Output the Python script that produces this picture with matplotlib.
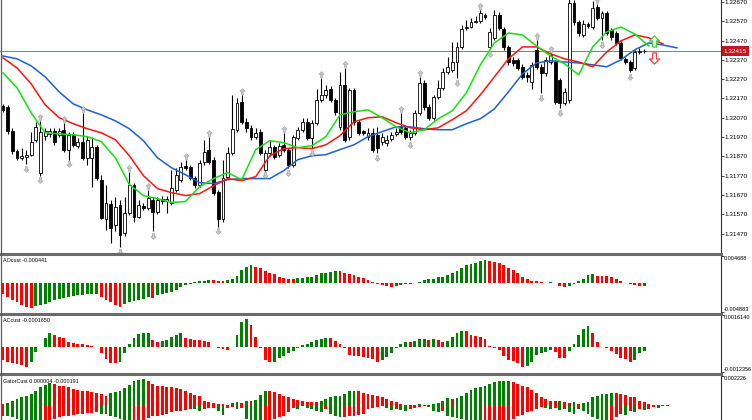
import numpy as np
import matplotlib.pyplot as plt
from matplotlib.lines import Line2D
from matplotlib.path import Path
import matplotlib.transforms as mtransforms

plt.rcParams['font.family'] = ['Liberation Sans', 'DejaVu Sans']

# ---------------- data ----------------
open_ = [
    1.32132, 1.32127, 1.32003, 1.31899, 1.31863, 1.31868, 1.31879, 1.31956, 1.31786, 1.31977,
    1.31987, 1.32003, 1.31982, 1.32008, 1.31905, 1.31982, 1.31925, 1.31946, 1.31863, 1.31863,
    1.31920, 1.31749, 1.31543, 1.31625, 1.31512, 1.31620, 1.31475, 1.31579, 1.31724, 1.31558,
    1.31615, 1.31605, 1.31646, 1.31584, 1.31651, 1.31641, 1.31631, 1.31698, 1.31749, 1.31822,
    1.31817, 1.31760, 1.31724, 1.31842, 1.31905, 1.31853, 1.31687, 1.31543, 1.31765, 1.31889,
    1.32008, 1.32153, 1.32049, 1.32018, 1.31972, 1.31998, 1.31801, 1.31889, 1.31920, 1.31879,
    1.31930, 1.31905, 1.31827, 1.31967, 1.32008, 1.32049, 1.31967, 1.32044, 1.32163, 1.32189,
    1.32220, 1.32163, 1.32023, 1.32241, 1.31972, 1.32215, 1.32049, 1.32003, 1.31972, 1.31992,
    1.31982, 1.31946, 1.31941, 1.31961, 1.31987, 1.32023, 1.32018, 1.31972, 1.31992, 1.32096,
    1.32251, 1.32127, 1.32070, 1.32179, 1.32225, 1.32308, 1.32318, 1.32359, 1.32437, 1.32535,
    1.32540, 1.32566, 1.32571, 1.32602, 1.32437, 1.32484, 1.32602, 1.32530, 1.32437, 1.32370,
    1.32370, 1.32334, 1.32292, 1.32256, 1.32422, 1.32334, 1.32303, 1.32359, 1.32359, 1.32266,
    1.32148, 1.32163, 1.32665, 1.32566, 1.32499, 1.32556, 1.32540, 1.32644, 1.32587, 1.32613,
    1.32525, 1.32509, 1.32458, 1.32375, 1.32359, 1.32328, 1.32411, 1.32416]
high = [
    1.32142, 1.32137, 1.32018, 1.31910, 1.31915, 1.31905, 1.31998, 1.32049, 1.32054, 1.32018,
    1.32018, 1.32018, 1.32018, 1.32044, 1.31998, 1.31998, 1.31967, 1.32096, 1.31977, 1.31972,
    1.31930, 1.31775, 1.31724, 1.31646, 1.31662, 1.31646, 1.31662, 1.31791, 1.31734, 1.31646,
    1.31631, 1.31698, 1.31662, 1.31662, 1.31667, 1.31667, 1.31801, 1.31811, 1.31842, 1.31853,
    1.31827, 1.31770, 1.31853, 1.31956, 1.31972, 1.31868, 1.31698, 1.31853, 1.31920, 1.32189,
    1.32173, 1.32189, 1.32070, 1.32034, 1.32018, 1.32013, 1.31905, 1.31956, 1.31930, 1.31941,
    1.31992, 1.31915, 1.31982, 1.32023, 1.32070, 1.32070, 1.32060, 1.32220, 1.32277, 1.32241,
    1.32235, 1.32173, 1.32308, 1.32328, 1.32225, 1.32225, 1.32060, 1.32008, 1.32018, 1.32018,
    1.32023, 1.31992, 1.31982, 1.31998, 1.32018, 1.32096, 1.32034, 1.32008, 1.32111, 1.32282,
    1.32266, 1.32142, 1.32189, 1.32266, 1.32328, 1.32385, 1.32463, 1.32463, 1.32551, 1.32577,
    1.32587, 1.32597, 1.32628, 1.32613, 1.32535, 1.32628, 1.32618, 1.32540, 1.32447, 1.32385,
    1.32380, 1.32349, 1.32308, 1.32359, 1.32473, 1.32349, 1.32385, 1.32406, 1.32370, 1.32277,
    1.32225, 1.32695, 1.32680, 1.32577, 1.32577, 1.32566, 1.32675, 1.32659, 1.32623, 1.32623,
    1.32535, 1.32520, 1.32468, 1.32385, 1.32370, 1.32422, 1.32432, 1.32427]
low = [
    1.32101, 1.31987, 1.31884, 1.31853, 1.31853, 1.31832, 1.31873, 1.31946, 1.31770, 1.31956,
    1.31972, 1.31930, 1.31972, 1.31894, 1.31853, 1.31920, 1.31915, 1.31853, 1.31827, 1.31713,
    1.31749, 1.31543, 1.31486, 1.31419, 1.31481, 1.31398, 1.31460, 1.31568, 1.31532, 1.31553,
    1.31594, 1.31594, 1.31481, 1.31574, 1.31625, 1.31579, 1.31620, 1.31687, 1.31739, 1.31801,
    1.31749, 1.31708, 1.31713, 1.31827, 1.31832, 1.31672, 1.31506, 1.31532, 1.31755, 1.31879,
    1.31998, 1.32039, 1.31998, 1.31956, 1.31961, 1.31879, 1.31796, 1.31873, 1.31858, 1.31868,
    1.31894, 1.31811, 1.31817, 1.31956, 1.31998, 1.31956, 1.31915, 1.32034, 1.32153, 1.32173,
    1.32153, 1.32085, 1.32008, 1.31946, 1.31956, 1.32034, 1.31982, 1.31982, 1.31956, 1.31894,
    1.31889, 1.31930, 1.31925, 1.31951, 1.31977, 1.31987, 1.31961, 1.31956, 1.31982, 1.32085,
    1.32111, 1.32060, 1.32060, 1.32168, 1.32215, 1.32297, 1.32308, 1.32277, 1.32427, 1.32525,
    1.32535, 1.32561, 1.32561, 1.32582, 1.32427, 1.32473, 1.32525, 1.32422, 1.32344, 1.32339,
    1.32318, 1.32272, 1.32256, 1.32220, 1.32323, 1.32199, 1.32287, 1.32349, 1.32142, 1.32122,
    1.32137, 1.32148, 1.32551, 1.32494, 1.32489, 1.32535, 1.32530, 1.32577, 1.32473, 1.32499,
    1.32473, 1.32447, 1.32370, 1.32349, 1.32308, 1.32318, 1.32401, 1.32406]
close = [
    1.32111, 1.32003, 1.31899, 1.31863, 1.31873, 1.31879, 1.31946, 1.32023, 1.31998, 1.32003,
    1.32003, 1.31946, 1.32003, 1.31905, 1.31982, 1.31930, 1.31946, 1.31863, 1.31956, 1.31920,
    1.31760, 1.31553, 1.31631, 1.31501, 1.31610, 1.31465, 1.31579, 1.31724, 1.31558, 1.31620,
    1.31605, 1.31656, 1.31584, 1.31646, 1.31641, 1.31651, 1.31708, 1.31775, 1.31817, 1.31811,
    1.31760, 1.31724, 1.31837, 1.31894, 1.31842, 1.31682, 1.31543, 1.31760, 1.31889, 1.32013,
    1.32148, 1.32049, 1.32018, 1.31972, 1.31992, 1.31889, 1.31889, 1.31920, 1.31868, 1.31925,
    1.31905, 1.31827, 1.31972, 1.32008, 1.32049, 1.31967, 1.32044, 1.32163, 1.32189, 1.32215,
    1.32163, 1.32101, 1.32241, 1.31956, 1.32215, 1.32049, 1.31992, 1.31992, 1.31992, 1.31905,
    1.31915, 1.31972, 1.31956, 1.31982, 1.31998, 1.31998, 1.31972, 1.31992, 1.32096, 1.32251,
    1.32127, 1.32070, 1.32179, 1.32225, 1.32308, 1.32334, 1.32359, 1.32437, 1.32530, 1.32540,
    1.32566, 1.32571, 1.32613, 1.32592, 1.32515, 1.32602, 1.32535, 1.32437, 1.32359, 1.32354,
    1.32328, 1.32282, 1.32282, 1.32344, 1.32334, 1.32303, 1.32370, 1.32396, 1.32153, 1.32148,
    1.32204, 1.32665, 1.32566, 1.32509, 1.32556, 1.32546, 1.32639, 1.32587, 1.32613, 1.32509,
    1.32489, 1.32458, 1.32380, 1.32359, 1.32318, 1.32411, 1.32416, 1.32415]

# alligator lines, one value every 3 bars (already shifted forward)
jaw = [1.32390, 1.32375, 1.32339, 1.32282, 1.32204, 1.32142, 1.32111, 1.32085, 1.32054, 1.32013,
       1.31951, 1.31863, 1.31811, 1.31775, 1.31734, 1.31729, 1.31749, 1.31755, 1.31755, 1.31755,
       1.31796, 1.31853, 1.31873, 1.31879, 1.31905, 1.31930, 1.31972, 1.31998, 1.32023, 1.32023,
       1.32013, 1.32008, 1.32008, 1.32039, 1.32065, 1.32116, 1.32204, 1.32297, 1.32354, 1.32365,
       1.32359, 1.32354, 1.32344, 1.32334, 1.32370, 1.32422, 1.32458, 1.32447, 1.32432]
teeth = [1.32380, 1.32328, 1.32246, 1.32137, 1.32070, 1.32039, 1.32013, 1.31992, 1.31956, 1.31873,
         1.31770, 1.31703, 1.31682, 1.31667, 1.31677, 1.31718, 1.31755, 1.31744, 1.31765, 1.31873,
         1.31910, 1.31915, 1.31910, 1.31930, 1.31977, 1.32049, 1.32070, 1.32075, 1.32044, 1.32018,
         1.32008, 1.32018, 1.32060, 1.32106, 1.32189, 1.32282, 1.32375, 1.32437, 1.32437, 1.32401,
         1.32375, 1.32359, 1.32334, 1.32411, 1.32468, 1.32499, 1.32484, 1.32453]
lips = [1.32303, 1.32225, 1.32096, 1.31992, 1.31987, 1.31982, 1.31972, 1.31946, 1.31863, 1.31724,
        1.31667, 1.31651, 1.31631, 1.31636, 1.31713, 1.31755, 1.31786, 1.31749, 1.31905, 1.31951,
        1.31941, 1.31915, 1.31925, 1.31972, 1.32085, 1.32101, 1.32111, 1.32070, 1.32023, 1.31992,
        1.32008, 1.32065, 1.32106, 1.32199, 1.32344, 1.32458, 1.32509, 1.32499, 1.32442, 1.32390,
        1.32349, 1.32292, 1.32437, 1.32515, 1.32540, 1.32504, 1.32442]

frac_up = [8, 13, 17, 27, 31, 39, 44, 51, 60, 68, 73, 85, 89, 102, 114, 117, 127]
frac_dn = [5, 8, 14, 25, 32, 46, 56, 61, 66, 80, 87, 97, 104, 115, 119, 128, 134]

# oscillators, in units of 1e-4
ao = [-18.0, -23.5, -28.1, -31.9, -37.5, -40.3, -41.5, -39.1, -37.5, -34.8,
      -31.9, -29.1, -27.4, -25.2, -23.5, -22.3, -20.7, -19.7, -19.0, -18.8,
      -18.0, -23.5, -29.1, -31.9, -37.5, -40.3, -34.8, -31.9, -30.2, -28.1,
      -26.4, -23.5, -24.4, -19.7, -18.0, -16.8, -15.1, -11.3, -6.7, -2.9,
      -1.2, 1.7, 2.9, 4.5, 6.2, 5.5, 3.4, 2.9, 5.5, 7.2,
      12.9, 22.5, 28.1, 30.7, 28.1, 26.4, 20.7, 16.8, 15.1, 11.3,
      9.6, 7.9, 7.6, 8.4, 9.6, 10.1, 11.3, 13.9, 16.8, 18.0,
      19.7, 20.7, 20.2, 18.0, 15.1, 13.4, 11.3, 8.4, 5.5, 2.2,
      -1.2, -3.4, -5.5, -5.9, -4.5, -3.4, -2.2, -1.2, 0.3, 2.2,
      5.0, 6.7, 7.9, 10.1, 11.3, 13.4, 16.8, 20.7, 26.4, 30.2,
      33.1, 34.8, 37.5, 39.1, 37.5, 35.8, 34.8, 30.2, 26.4, 22.3,
      16.8, 11.3, 6.7, 3.9, 3.7, 1.2, 0.5, 1.2, -0.5, -5.5,
      -7.2, -5.0, -1.2, 3.4, 7.2, 13.9, 15.1, 12.9, 12.6, 12.3,
      11.3, 7.2, 3.4, 0.5, -1.2, -3.5, -5.0, -4.41]
ac = [-6.35, -7.15, -7.65, -8.35, -8.85, -10.0, -7.15, -2.15, 0.35, 4.5,
      7.0, 6.15, 5.0, 4.85, 2.85, 2.0, 1.65, 1.6, 1.15, 0.65,
      0.15, -3.0, -6.0, -8.0, -8.1, -7.15, -3.0, 1.5, 4.5, 6.65,
      7.0, 7.25, 3.65, 2.85, 2.9, 3.65, 5.0, 6.15, 7.35, 4.5,
      4.0, 3.65, 3.6, 3.35, 2.85, 0.35, -0.5, -1.0, -1.35, 0.35,
      6.15, 12.85, 14.15, 11.15, 5.0, -0.15, -6.35, -7.5, -7.15, -5.15,
      -4.15, -3.0, -1.65, -0.15, 1.15, 1.5, 2.5, 3.65, 4.15, 4.5,
      4.45, 3.15, 1.5, -0.5, -3.85, -4.15, -4.25, -4.65, -5.5, -5.85,
      -7.15, -6.35, -4.65, -3.0, -0.5, 1.5, 2.5, 2.4, 3.15, 4.15,
      4.2, 3.65, 4.15, 3.65, 2.85, 3.15, 5.35, 7.0, 8.35, 8.25,
      6.15, 5.85, 5.35, 4.15, 0.65, -0.5, -1.35, -4.15, -6.35, -6.65,
      -8.0, -9.65, -9.35, -7.15, -3.85, -3.0, -2.15, -1.35, -2.15, -5.35,
      -5.4, -2.0, 1.65, 6.35, 9.35, 10.85, 7.15, 2.5, 0.1, -0.15,
      -2.0, -3.15, -5.35, -5.85, -7.5, -6.15, -2.85, -1.65]
gator_up = [
    1.26, 2.00, 3.71, 4.97, 6.16, 7.42, 8.68, 11.13, 13.58, 15.58,
    16.55, 16.10, 14.84, 14.32, 13.58, 12.39, 11.87, 11.13, 10.39, 9.87,
    9.42, 8.68, 7.42, 9.42, 9.87, 11.13, 12.84, 15.36, 17.81, 19.29,
    19.81, 18.55, 16.10, 14.84, 14.32, 13.58, 13.50, 12.84, 12.39, 11.13,
    9.42, 7.94, 6.90, 3.71, 2.45, 2.00, 1.34, 1.11, 0.59, 1.71,
    2.23, 2.00, 3.71, 2.97, 4.08, 7.94, 10.76, 10.39, 9.87, 8.68,
    7.42, 6.16, 4.97, 4.08, 3.71, 2.82, 2.45, 2.23, 3.71, 4.97,
    6.16, 6.90, 7.12, 8.68, 10.39, 11.13, 10.39, 9.42, 8.68, 7.94,
    7.42, 6.16, 4.97, 3.71, 2.45, 1.26, 0.59, 0.37, 0.59, 0.89,
    0.45, 0.59, 1.11, 1.86, 3.71, 5.42, 5.19, 5.57, 7.42, 9.42,
    11.87, 12.84, 13.58, 14.84, 16.10, 17.29, 17.81, 18.33, 18.55, 17.29,
    16.10, 14.84, 13.58, 11.87, 9.42, 6.16, 4.97, 3.71, 2.97, 3.34,
    2.60, 2.08, 2.37, 1.48, 1.86, 2.45, 6.16, 7.42, 8.68, 8.76,
    9.13, 9.05, 8.68, 8.16, 6.16, 6.08, 3.71, 2.45, 1.26, 0.74,
    0.52, 0.37, 0.04]
gator_lo = [
    -7.42, -7.79, -8.68, -9.65, -10.39, -11.13, -11.87, -12.61, -13.36, -12.61,
    -11.50, -10.02, -8.90, -8.16, -7.42, -6.90, -6.46, -6.08, -5.71, -5.34,
    -4.97, -6.16, -6.31, -7.42, -8.90, -10.02, -11.13, -12.24, -11.87, -11.50,
    -10.39, -9.28, -8.16, -7.42, -6.68, -5.94, -5.19, -4.45, -3.71, -2.97,
    -2.23, -2.60, -3.71, -2.45, -2.00, -1.86, -3.71, -6.90, -2.00, -1.26,
    -2.23, -2.00, -9.87, -10.76, -11.87, -13.36, -12.61, -11.13, -9.87, -8.68,
    -7.42, -4.97, -2.00, -2.45, -0.52, -2.00, -2.45, -4.45, -4.53, -2.45,
    -6.16, -7.42, -8.68, -8.53, -8.16, -7.42, -6.68, -5.94, -2.45, -2.00,
    -1.26, -0.74, -2.00, -2.97, -2.45, -2.97, -3.71, -2.45, -1.86, -1.11,
    -0.74, -1.48, -3.71, -4.97, -3.71, -7.42, -8.68, -9.28, -9.87, -11.13,
    -12.61, -14.10, -15.58, -15.21, -14.84, -14.10, -13.36, -12.24, -11.13, -9.65,
    -8.16, -6.68, -5.19, -3.71, -2.23, -1.11, -1.86, -2.60, -1.86, -3.19,
    -2.45, -4.97, -6.16, -2.45, -4.45, -6.16, -8.68, -9.87, -10.76, -11.13,
    -10.39, -8.90, -5.94, -6.68, -4.45, -5.19, -2.45, -2.97, -2.45, -1.48,
    -1.91]

price_ticks = [1.31470, 1.31570, 1.31670, 1.31770, 1.31870, 1.31970, 1.32070,
               1.32170, 1.32270, 1.32370, 1.32470, 1.32570, 1.32670]
last_price = 1.32415
ao_range = (-0.004883, 0.004688)
ac_range = (-0.0012356, 0.0016140)
gator_top = 0.002226
signal_up = (139, 1.32470)
signal_dn = (139, 1.32378)

# ---------------- layout ----------------
W, H = 752, 420
fig = plt.figure(figsize=(W / 100, H / 100), dpi=100)
fig.patch.set_facecolor('white')

AXIS_X = 721          # pixel column of the price scale
X0, STEP = 3.0, 4.68  # first bar position and bar spacing in pixels
XLIM = (-X0 / STEP, (AXIS_X - X0) / STEP)
GREEN, RED = '#008000', '#ff0000'


def box(x0, y0, x1, y1):
    return [x0 / W, 1 - y1 / H, (x1 - x0) / W, (y1 - y0) / H]


def style(ax):
    for s in ('top', 'left', 'bottom'):
        ax.spines[s].set_visible(False)
    ax.spines['right'].set_color('#303030')
    ax.spines['right'].set_linewidth(0.8)
    ax.set_xlim(*XLIM)
    ax.set_xticks([])
    ax.yaxis.tick_right()
    ax.tick_params(axis='y', length=1.8, width=0.5, pad=0.8, labelsize=4.6,
                   direction='out')


arrow_up = Path([(0, 1), (-0.9, 0.1), (-0.35, 0.1), (-0.35, -1), (0.35, -1),
                 (0.35, 0.1), (0.9, 0.1), (0, 1)], closed=True)
arrow_dn = Path([(x, -y) for x, y in arrow_up.vertices], closed=True)

# ---------------- main price panel ----------------
ax = fig.add_axes(box(0, 0, AXIS_X, 252.5))
style(ax)
ax.set_ylim(1.31372, 1.32680)
ax.set_yticks(price_ticks)
ax.set_yticklabels([f'{p:.5f}' for p in price_ticks])

o, h, l, c = (np.array(a) for a in (open_, high, low, close))
idx = np.arange(len(c))
bull = c >= o
ax.vlines(idx, l, h, color='black', lw=0.8, zorder=2)
ax.bar(idx, np.maximum(np.abs(c - o), 1e-6), bottom=np.minimum(o, c), width=0.62,
       color=np.where(bull, 'white', 'black'), edgecolor='black', linewidth=0.6, zorder=3)

ax.axhline(last_price, color='#c86464', lw=0.7, zorder=1)

for vals, col in ((jaw, '#1d5fd6'), (teeth, '#ff1414'), (lips, '#14e014')):
    ax.plot(np.arange(len(vals)) * 3, vals, color=col, lw=1.1, zorder=4,
            solid_joinstyle='round')

fu, fd = np.array(frac_up), np.array(frac_dn)
ax.plot(fu, h[fu] + 0.0002, ls='none', marker=arrow_up, ms=4.2, mfc='#cccccc',
        mec='#999999', mew=0.4, zorder=5)
ax.plot(fd, l[fd] - 0.00025, ls='none', marker=arrow_dn, ms=4.2, mfc='#cccccc',
        mec='#999999', mew=0.4, zorder=5)

ax.plot([signal_up[0]], [signal_up[1]], marker=arrow_up, ms=8, mfc='white',
        mec='#3ccf3c', mew=0.9, ls='none', zorder=6, clip_on=False)
ax.plot([signal_dn[0]], [signal_dn[1]], marker=arrow_dn, ms=8, mfc='white',
        mec='#ff4040', mew=0.9, ls='none', zorder=6, clip_on=False)

trans = mtransforms.blended_transform_factory(ax.transAxes, ax.transData)
ax.text(1.004, last_price, f'{last_price:.5f}', transform=trans, va='center',
        ha='left', fontsize=4.6, color='white', clip_on=False, zorder=10,
        bbox=dict(boxstyle='square,pad=0.35', fc='#c3151c', ec='none'))


# ---------------- oscillator panels ----------------
def colors(v):
    out = []
    for i in range(len(v)):
        out.append(GREEN if i > 0 and v[i] > v[i - 1] else RED)
    return out


def panel(y0, y1, lo, hi, fmt, title, show_lo=True):
    a = fig.add_axes(box(0, y0, AXIS_X, y1))
    style(a)
    a.set_ylim(lo, hi)
    a.set_yticks([lo, hi] if show_lo else [hi])
    a.set_yticklabels([])
    a.text(1.004, 1.0, format(hi, fmt), transform=a.transAxes, va='top', ha='left',
           fontsize=4.0)
    if show_lo:
        a.text(1.004, 0.0, format(lo, fmt), transform=a.transAxes, va='bottom',
               ha='left', fontsize=4.0)
    a.text(3 / AXIS_X, 1 - 3 / (y1 - y0), title, transform=a.transAxes,
           va='top', ha='left', fontsize=3.9)
    return a


ao_v = np.array(ao) * 1e-4
ax_ao = panel(255.5, 312, ao_range[0], ao_range[1], '.6f', f'AOcust {ao_v[-1]:.6f}')
ax_ao.bar(np.arange(len(ao_v)), ao_v, width=0.62, color=colors(ao_v), linewidth=0)

ac_v = np.array(ac) * 1e-4
ax_ac = panel(315, 372, ac_range[0], ac_range[1], '.7f', f'ACcust {ac_v[-1]:.7f}')
ax_ac.bar(np.arange(len(ac_v)), ac_v, width=0.62, color=colors(ac_v), linewidth=0)

gu = np.array(gator_up) * 1e-4
gl = np.array(gator_lo) * 1e-4
ax_g = panel(375.5, 435.5, -gator_top, gator_top, '.6f',
             f'GatorCust {gu[-1]:.6f} {gl[-1]:.6f}', show_lo=False)
ax_g.bar(np.arange(len(gu)), gu, width=0.62, color=colors(gu), linewidth=0)
ax_g.bar(np.arange(len(gl)), gl, width=0.62, color=colors(-gl), linewidth=0)

# ---------------- window separators ----------------
for y in (253.8, 313.5, 373.8):
    fig.add_artist(Line2D([0, AXIS_X / W], [1 - y / H] * 2, transform=fig.transFigure,
                          color='#6b6b6b', lw=2.2))
fig.add_artist(Line2D([0.8 / W] * 2, [0, 1], transform=fig.transFigure,
                      color='#5a5a5a', lw=0.9))

fig.savefig('out.png', dpi=100, facecolor='white')
